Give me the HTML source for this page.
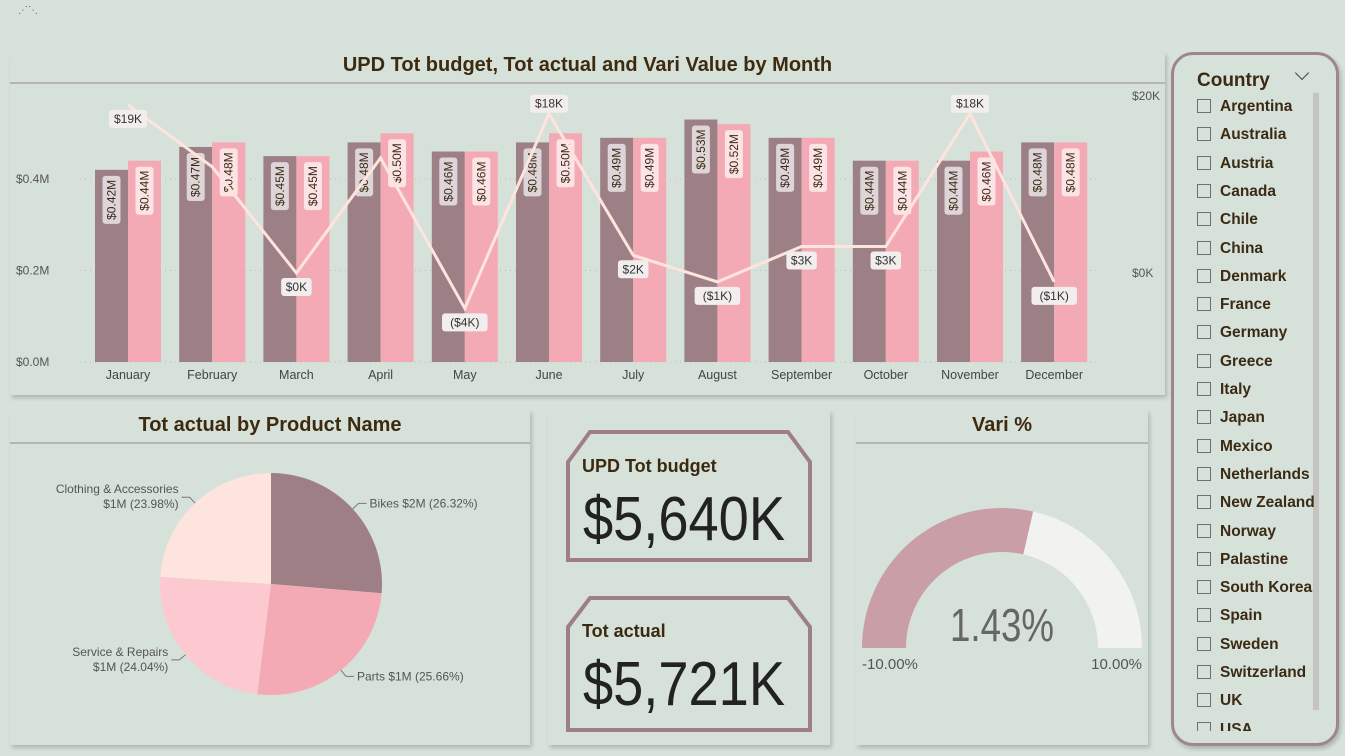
<!DOCTYPE html>
<html><head><meta charset="utf-8">
<style>
body{margin:0;width:1345px;height:756px;background:#d7e2dc;overflow:hidden;position:relative;font-family:"Liberation Sans",sans-serif}
.panel{position:absolute;background:#d6e1da;box-shadow:2px 3px 4px rgba(0,0,0,0.18)}
.ttl{position:absolute;left:0;right:0;text-align:center;font-family:"Liberation Sans Narrow","Liberation Sans",sans-serif;font-weight:bold;color:#3d2a0f;font-size:20px}
.rule{position:absolute;left:0;right:0;height:2px;background:#b9b3b3}
.item{position:absolute;left:1197px;font-family:"Liberation Sans Narrow","Liberation Sans",sans-serif;font-weight:bold;font-size:15.5px;color:#3b2a14}
.item i{display:inline-block;width:12px;height:12px;border:1px solid #6f6f6f;vertical-align:-2px;margin-right:9px}
</style></head><body>
<div style="position:absolute;left:18px;top:5px;color:#666;font-size:10px">⋰⋱</div>

<div class="panel" style="left:10px;top:52px;width:1155px;height:343px">
 <div class="ttl" style="top:2px">UPD Tot budget, Tot actual and Vari Value by Month</div>
 <div class="rule" style="top:30px"></div>
</div>
<svg id="chart" style="position:absolute;left:0;top:0" width="1165" height="400"></svg>

<div class="panel" style="left:10px;top:410px;width:520px;height:335px">
 <div class="ttl" style="top:4px">Tot actual by Product Name</div>
 <div class="rule" style="top:32px"></div>
</div>
<svg id="pie" style="position:absolute;left:0;top:400px" width="530" height="356"></svg>

<div class="panel" style="left:548px;top:410px;width:282px;height:335px"></div>
<svg style="position:absolute;left:548px;top:410px" width="282" height="335">
 <polygon points="20,52 42,22 240,22 262,52 262,150 20,150" fill="none" stroke="#9e7f88" stroke-width="4"/>
 <text x="34" y="62" font-family="Liberation Sans Narrow, Liberation Sans, sans-serif" font-weight="bold" font-size="18" fill="#3b2a0f">UPD Tot budget</text>
 <text x="35" y="130" textLength="202" lengthAdjust="spacingAndGlyphs" font-family="Liberation Sans Narrow, Liberation Sans, sans-serif" font-size="62" fill="#222">$5,640K</text>
 <polygon points="20,217 42,188 240,188 262,217 262,320 20,320" fill="none" stroke="#9e7f88" stroke-width="4"/>
 <text x="34" y="227" font-family="Liberation Sans Narrow, Liberation Sans, sans-serif" font-weight="bold" font-size="18" fill="#3b2a0f">Tot actual</text>
 <text x="35" y="295" textLength="202" lengthAdjust="spacingAndGlyphs" font-family="Liberation Sans Narrow, Liberation Sans, sans-serif" font-size="62" fill="#222">$5,721K</text>
</svg>

<div class="panel" style="left:856px;top:410px;width:292px;height:335px">
 <div class="ttl" style="top:4px">Vari %</div>
 <div class="rule" style="top:32px"></div>
</div>
<svg id="gauge" style="position:absolute;left:856px;top:410px" width="292" height="335"></svg>

<div style="position:absolute;left:1171px;top:52px;width:162px;height:688px;border:3px solid #a08590;border-radius:22px;background:#d6e1da;box-shadow:2px 3px 4px rgba(0,0,0,0.2)"></div>
<div style="position:absolute;left:1197px;top:70px;font-family:'Liberation Sans Narrow','Liberation Sans',sans-serif;font-weight:bold;font-size:19px;color:#3b2a14">Country</div>
<div style="position:absolute;left:1297px;top:68px;width:9px;height:9px;border-right:1.5px solid #444;border-bottom:1.5px solid #444;transform:rotate(45deg)"></div>
<div style="position:absolute;left:1313px;top:93px;width:6px;height:617px;background:#c8c3c3"></div>
<div id="items"></div>

<script>
const months=["January","February","March","April","May","June","July","August","September","October","November","December"];
const budget=[0.42,0.47,0.45,0.48,0.46,0.48,0.49,0.53,0.49,0.44,0.44,0.48];
const actual=[0.44,0.48,0.45,0.50,0.46,0.50,0.49,0.52,0.49,0.44,0.46,0.48];
const vari=[19,12,0,13,-4,18,2,-1,3,3,18,-1];
const variLabels=["$19K","","$0K","","($4K)","$18K","$2K","($1K)","$3K","$3K","$18K","($1K)"];
const leftTicks=[0,0.2,0.4];
const rightTicks=[0,20];
const products=["Bikes","Parts","Service & Repairs","Clothing & Accessories"];
const shares=[26.32,25.66,24.04,23.98];
const countries=["Argentina","Australia","Austria","Canada","Chile","China","Denmark","France","Germany","Greece","Italy","Japan","Mexico","Netherlands","New Zealand","Norway","Palastine","South Korea","Spain","Sweden","Switzerland","UK","USA"];
const gaugeValue=1.43, gaugeMin=-10, gaugeMax=10;

const NS="http://www.w3.org/2000/svg";
function mk(parent,tag,attrs,text){const e=document.createElementNS(NS,tag);for(const k in attrs)e.setAttribute(k,attrs[k]);if(text!==undefined)e.textContent=text;parent.appendChild(e);return e;}

const svg=document.getElementById('chart');
const y=v=>362-v/0.1*45.75;
const yr=v=>273-v*8.85;
const x0=128, step=84.2, bw=33;
const cx=i=>x0+i*step;
leftTicks.forEach(t=>{
 const g=mk(svg,'line',{x1:80,x2:1100,y1:y(t),y2:y(t),stroke:'#b8bdb9','stroke-dasharray':'1 4'});
 
 const tx=mk(svg,'text',{x:16,y:y(t)+4,'font-size':12,fill:'#555'},'$'+t.toFixed(1)+'M');
 
});
rightTicks.forEach(t=>{
 const tx=mk(svg,'text',{x:1132,y:yr(t)+4,'font-size':12,fill:'#555'},'$'+t+'K');
 
});
function vlabel(xc,ytop,txt,fill){
 const h=txt.length*7+6;
 const r=mk(svg,'rect',{x:xc-9,y:ytop+6,width:18,height:h,rx:3,fill:fill});
 
 const t=mk(svg,'text',{x:0,y:0,'font-size':12,fill:'#3b2a14','text-anchor':'middle',transform:`translate(${xc+4},${ytop+6+h/2}) rotate(-90)`},txt);
 
}
months.forEach((m,i)=>{
 const c=cx(i);
 const b=mk(svg,'rect',{x:c-bw,y:y(budget[i]),width:bw,height:362-y(budget[i]),fill:'#9d7f86'});
 
 const a=mk(svg,'rect',{x:c,y:y(actual[i]),width:bw,height:362-y(actual[i]),fill:'#f4aab5'});
 
 vlabel(c-bw/2,y(budget[i]),'$'+budget[i].toFixed(2)+'M','#ddd5d7');
 vlabel(c+bw/2,y(actual[i]),'$'+actual[i].toFixed(2)+'M','#fbe3e6');
 const t=mk(svg,'text',{x:c,y:379,'font-size':12.5,fill:'#444','text-anchor':'middle'},m);
 
});
const pts=vari.map((v,i)=>cx(i)+','+yr(v)).join(' ');
const pl=mk(svg,'polyline',{points:pts,fill:'none',stroke:'#fde4dc','stroke-width':3});

vari.forEach((v,i)=>{
 if(!variLabels[i])return;
 const ly=yr(v)+(i===5||i===10?-10:14);
 const w=variLabels[i].length*7.5+8;
 const r=mk(svg,'rect',{x:cx(i)-w/2,y:ly-9,width:w,height:18,rx:3,fill:'#f2eeee'});
 
 const t=mk(svg,'text',{x:cx(i),y:ly+4,'font-size':12,fill:'#333','text-anchor':'middle'},variLabels[i]);
 
});

const pie=document.getElementById('pie');
const pcx=271,pcy=184,R=111;
const cols=['#9e7f86','#f4aab5','#fcc9d1','#fde4dc'];
const tot=shares.reduce((a,b)=>a+b,0);
let ang=-Math.PI/2;
const amounts=["$2M","$1M","$1M","$1M"];
shares.forEach((s,i)=>{
 const a2=ang+s/tot*2*Math.PI;
 const p=`M${pcx},${pcy} L${pcx+R*Math.cos(ang)},${pcy+R*Math.sin(ang)} A${R},${R} 0 0 1 ${pcx+R*Math.cos(a2)},${pcy+R*Math.sin(a2)} Z`;
 const e=mk(pie,'path',{d:p,fill:cols[i]});
 
 const mid=(ang+a2)/2;
 const ex=pcx+(R+8)*Math.cos(mid), ey=pcy+(R+8)*Math.sin(mid);
 const right=Math.cos(mid)>0;
 const lx=ex+(right?8:-8);
 mk(pie,'polyline',{points:`${pcx+R*Math.cos(mid)},${pcy+R*Math.sin(mid)} ${ex},${ey} ${lx},${ey}`,fill:'none',stroke:'#777'});
 if(right){
  const t=mk(pie,'text',{x:lx+3,y:ey+4,'font-size':12,fill:'#555'},products[i]+' '+amounts[i]+' ('+s.toFixed(2)+'%)');
  
 }else{
  const t=mk(pie,'text',{x:lx-3,y:ey-4,'font-size':12,fill:'#555','text-anchor':'end'},products[i]);
  
  const t2=mk(pie,'text',{x:lx-3,y:ey+11,'font-size':12,fill:'#555','text-anchor':'end'},amounts[i]+' ('+s.toFixed(2)+'%)');
  
 }
 ang=a2;
});

const g=document.getElementById('gauge');
const gx=146,gy=238,Ro=140,Ri=96;
function arc(a1,a2,fill,name){
 const P=(r,a)=>`${gx+r*Math.cos(a)},${gy-r*Math.sin(a)}`;
 const e=mk(g,'path',{d:`M${P(Ro,a1)} A${Ro},${Ro} 0 0 1 ${P(Ro,a2)} L${P(Ri,a2)} A${Ri},${Ri} 0 0 0 ${P(Ri,a1)} Z`,fill:fill});
 
}
const frac=(gaugeValue-gaugeMin)/(gaugeMax-gaugeMin);
const split=Math.PI*(1-frac);
arc(Math.PI,split,'#c99ea6','gauge-fill');
arc(split,0,'#f2f2f0','gauge-remainder');
const gv=mk(g,'text',{x:gx,y:231,'font-size':46,'text-anchor':'middle',fill:'#666',textLength:104,lengthAdjust:'spacingAndGlyphs','font-family':'Liberation Sans Narrow, Liberation Sans, sans-serif'},gaugeValue.toFixed(2)+'%');

const gmn=mk(g,'text',{x:6,y:259,'font-size':15,fill:'#555','font-family':'Liberation Sans Narrow, Liberation Sans, sans-serif'},gaugeMin.toFixed(2)+'%');

const gmx=mk(g,'text',{x:286,y:259,'font-size':15,'text-anchor':'end',fill:'#555','font-family':'Liberation Sans Narrow, Liberation Sans, sans-serif'},gaugeMax.toFixed(2)+'%');


const items=document.getElementById('items');
countries.forEach((c,i)=>{
 const d=document.createElement('div');
 d.className='item';
 d.style.top=(98+i*28.3)+'px';
 if(i===countries.length-1){d.style.height='10px';d.style.overflow='hidden';}
 d.innerHTML='<i></i>'+c;
 
 
 items.appendChild(d);
});
</script>
</body></html>
